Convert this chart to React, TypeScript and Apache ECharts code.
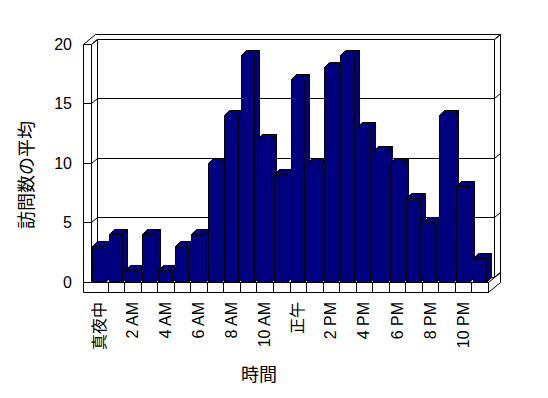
import React, { useEffect, useRef } from "react";
import * as echarts from "echarts";

const categories = [
  "真夜中", "1 AM", "2 AM", "3 AM", "4 AM", "5 AM", "6 AM", "7 AM", "8 AM", "9 AM", "10 AM", "11 AM",
  "正午", "1 PM", "2 PM", "3 PM", "4 PM", "5 PM", "6 PM", "7 PM", "8 PM", "9 PM", "10 PM", "11 PM",
];
const visits = [3, 4, 1, 4, 1, 3, 4, 10, 14, 19, 12, 9, 17, 10, 18, 19, 13, 11, 10, 7, 5, 14, 8, 2];
const yTicks = [0, 5, 10, 15, 20];
const yAxisTitle = "訪問数の平均";
const xAxisTitle = "時間";

const FONT = "'Liberation Sans', 'Noto Sans CJK JP', sans-serif";
const BAR_COLOR = "#000080";

const snap = (v: number) => Math.round(v - 0.5) + 0.5;

export default function App() {
  const ref = useRef<HTMLDivElement>(null);

  useEffect(() => {
    if (!ref.current) return;
    const chart = echarts.init(ref.current, undefined, { renderer: "svg" });
    const yMin = yTicks[0];
    const yMax = yTicks[yTicks.length - 1];
    const step = yTicks[1] - yTicks[0];

    const lineStyle = { stroke: "#000", lineWidth: 1, fill: "none" };
    const faceStyle = { stroke: "#000", lineWidth: 1, fill: "#fff" };
    const barStyle = { stroke: "#000", lineWidth: 1, fill: BAR_COLOR };

    const frameRender = (_params: any, api: any) => {
      const n = categories.length;
      const band = api.size([1, 0])[0];
      const x0 = snap(api.coord([0, 0])[0] - band / 2);
      const x1 = snap(api.coord([n - 1, 0])[0] + band / 2);
      const y = (v: number) => snap(api.coord([0, v])[1]);
      const yT = y(yMax);
      const y0 = y(yMin);
      const t = 8; // side wall thickness
      const F = 10; // floor thickness
      const Dx = 6, Dy = -5; // depth to back wall
      const Tx = 6, Ty = -5; // back wall thickness
      const xl = x0 - t;
      const children: any[] = [];
      children.push({ type: "rect", shape: { x: x0 + Dx, y: yT + Dy, width: x1 - x0, height: y0 - yT }, style: faceStyle });
      children.push({
        type: "polygon",
        shape: {
          points: [
            [xl, yT], [x0, yT], [x0 + Dx, yT + Dy], [x1 + Dx, yT + Dy],
            [x1 + Dx + Tx, yT + Dy + Ty], [xl + Dx + Tx, yT + Dy + Ty],
          ],
        },
        style: faceStyle,
      });
      children.push({
        type: "polygon",
        shape: { points: [[x1 + Dx, yT + Dy], [x1 + Dx + Tx, yT + Dy + Ty], [x1 + Dx + Tx, y0 + Dy + Ty], [x1 + Dx, y0 + Dy]] },
        style: faceStyle,
      });
      children.push({
        type: "polygon",
        shape: { points: [[x0, y0], [x1, y0], [x1 + Dx, y0 + Dy], [x0 + Dx, y0 + Dy]] },
        style: faceStyle,
      });
      children.push({
        type: "polygon",
        shape: { points: [[x0, yT], [x0 + Dx, yT + Dy], [x0 + Dx, y0 + Dy], [x0, y0]] },
        style: faceStyle,
      });
      children.push({ type: "rect", shape: { x: xl, y: yT, width: t, height: y0 - yT }, style: faceStyle });
      children.push({ type: "rect", shape: { x: xl, y: y0, width: x1 - xl, height: F }, style: faceStyle });
      children.push({
        type: "polygon",
        shape: { points: [[x1, y0], [x1, y0 + F], [x1 + Dx + Tx, y0 + F + Dy + Ty], [x1 + Dx + Tx, y0 + Dy + Ty]] },
        style: faceStyle,
      });
      for (let k = 1; k < n; k++) {
        const xk = snap(x0 + ((x1 - x0) * k) / n);
        children.push({ type: "line", shape: { x1: xk, y1: y0, x2: xk, y2: y0 + F }, style: lineStyle });
      }
      yTicks.forEach((v) => {
        const yy = y(v);
        children.push({ type: "line", shape: { x1: xl, y1: yy, x2: x0, y2: yy }, style: lineStyle });
        children.push({ type: "line", shape: { x1: x0, y1: yy, x2: x0 + Dx, y2: yy + Dy }, style: lineStyle });
        children.push({ type: "line", shape: { x1: x0 + Dx, y1: yy + Dy, x2: x1 + Dx, y2: yy + Dy }, style: lineStyle });
        children.push({
          type: "line",
          shape: { x1: x1 + Dx, y1: yy + Dy, x2: x1 + Dx + Tx, y2: yy + Dy + Ty },
          style: lineStyle,
        });
      });
      return { type: "group", children };
    };

    const barRender = (_params: any, api: any) => {
      const i = api.value(0);
      const v = api.value(1);
      const top = api.coord([i, v]);
      const base = api.coord([i, 0]);
      const band = api.size([1, 0])[0];
      const w = band * 0.81;
      const xl = snap(top[0] - w / 2);
      const xr = snap(top[0] + w / 2);
      const yt = snap(top[1]);
      const yb = snap(base[1]);
      const dx = 5, dy = -5;
      return {
        type: "group",
        children: [
          { type: "polygon", shape: { points: [[xr, yt], [xr + dx, yt + dy], [xr + dx, yb + dy], [xr, yb]] }, style: barStyle },
          { type: "polygon", shape: { points: [[xl, yt], [xr, yt], [xr + dx, yt + dy], [xl + dx, yt + dy]] }, style: barStyle },
          { type: "rect", shape: { x: xl, y: yt, width: xr - xl, height: yb - yt }, style: barStyle },
        ],
      };
    };

    chart.setOption({
      animation: false,
      backgroundColor: "#fff",
      grid: { left: 91, right: 60, top: 44, bottom: 116 },
      xAxis: {
        type: "category",
        data: categories,
        axisLine: { show: false },
        axisTick: { show: false },
        splitLine: { show: false },
        axisLabel: { rotate: 90, interval: 1, margin: 20, fontSize: 16, color: "#000", fontFamily: FONT },
      },
      yAxis: {
        type: "value",
        min: yMin,
        max: yMax,
        interval: step,
        axisLine: { show: false },
        axisTick: { show: false },
        splitLine: { show: false },
        axisLabel: { margin: 19, fontSize: 16, color: "#000", fontFamily: FONT },
      },
      graphic: [
        {
          type: "text",
          x: 27,
          y: 175,
          rotation: Math.PI / 2,
          style: { text: yAxisTitle, font: `18px ${FONT}`, fill: "#000", align: "center", verticalAlign: "middle" },
        },
        {
          type: "text",
          x: 259,
          y: 375,
          style: { text: xAxisTitle, font: `18px ${FONT}`, fill: "#000", align: "center", verticalAlign: "middle" },
        },
      ],
      series: [
        { type: "custom", name: "frame", data: [[0, 0]], renderItem: frameRender, silent: true, z: 1, encode: { x: 0, y: 1 } },
        {
          type: "custom",
          name: yAxisTitle,
          data: visits.map((v, i) => [i, v]),
          renderItem: barRender,
          z: 2,
          encode: { x: 0, y: 1 },
        },
      ],
    });
    return () => chart.dispose();
  }, []);

  return <div ref={ref} style={{ position: "fixed", left: 0, top: 0, width: 548, height: 398, background: "#fff" }} />;
}
